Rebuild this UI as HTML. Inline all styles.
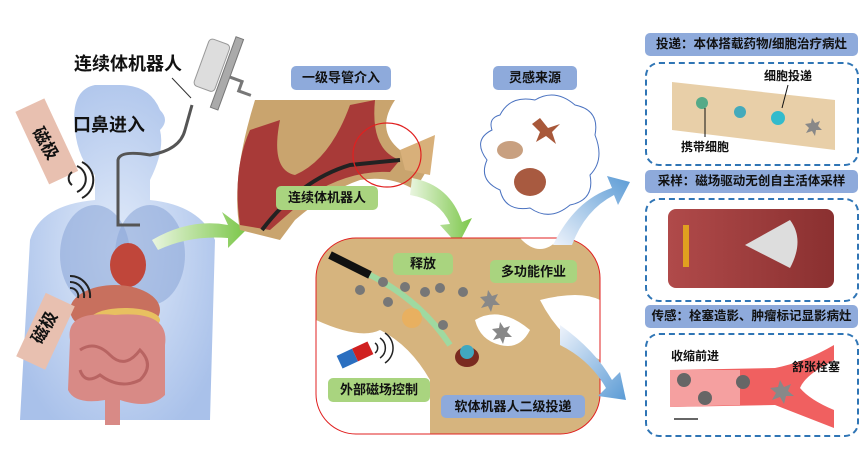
<!DOCTYPE html>
<html><head><meta charset="utf-8"><style>
body{margin:0;width:860px;height:466px;background:#fff;overflow:hidden;position:relative;font-family:"Liberation Sans","Noto Sans CJK SC",sans-serif;}
.t{position:absolute;font-weight:bold;color:#111;white-space:nowrap;}
.g{position:absolute;background:#a9d47f;border-radius:5px;font-weight:bold;font-size:13px;color:#111;text-align:center;}
.b{position:absolute;background:#8eaadb;border-radius:5px;font-weight:bold;font-size:13px;color:#111;text-align:center;}
.d{position:absolute;border:2px dashed #2f75b5;border-radius:14px;}
</style></head><body>
<svg width="860" height="466" style="position:absolute;left:0;top:0">
<defs>
<radialGradient id="bd" cx="50%" cy="50%" r="60%"><stop offset="0" stop-color="#e3ecfa"/><stop offset="1" stop-color="#a9c1ea"/></radialGradient>
<linearGradient id="ga" x1="0" x2="1"><stop offset="0" stop-color="#e9f5df"/><stop offset="1" stop-color="#7cc74a"/></linearGradient>
<linearGradient id="ba" x1="0" y1="1" x2="1" y2="0"><stop offset="0" stop-color="#eef3fb"/><stop offset="1" stop-color="#5b9bd5"/></linearGradient>
<linearGradient id="ba2" x1="0" y1="0" x2="1" y2="1"><stop offset="0" stop-color="#eef3fb"/><stop offset="1" stop-color="#5b9bd5"/></linearGradient>
<linearGradient id="rd" x1="0" x2="1"><stop offset="0" stop-color="#b04a4a"/><stop offset="1" stop-color="#8a3030"/></linearGradient>
</defs>
<path d="M95 85 Q70 90 75 130 Q78 160 95 175 L95 200 Q40 205 30 240 L20 420 L210 420 L215 240 Q200 205 150 200 L150 180 Q165 150 160 130 Q170 120 160 110 Q150 85 120 85 Z" fill="url(#bd)"/>
<ellipse cx="95" cy="255" rx="35" ry="50" fill="#8ea9d8" opacity=".6"/>
<ellipse cx="150" cy="255" rx="35" ry="50" fill="#8ea9d8" opacity=".6"/>
<ellipse cx="128" cy="265" rx="18" ry="22" fill="#c0463a"/>
<ellipse cx="115" cy="310" rx="45" ry="25" fill="#c8705e"/>
<ellipse cx="125" cy="320" rx="35" ry="12" fill="#e8c060"/>
<path d="M70 340 Q65 310 115 315 Q170 310 165 345 L165 395 Q150 410 120 400 L120 425 L105 425 L105 400 Q75 405 68 390 Z" fill="#d88a86"/>
<path d="M80 350 Q95 340 110 355 Q125 370 140 350 Q155 365 140 380 Q120 390 100 375 Q85 385 80 370" stroke="#b86462" stroke-width="3" fill="none"/>
<path d="M140 225 L118 225 L118 160 Q120 150 150 155 Q180 150 185 130 L192 105" stroke="#555" stroke-width="3" fill="none"/>
<g transform="rotate(20 225 70)"><rect x="200" y="45" width="22" height="50" rx="4" fill="#ddd" stroke="#999"/><rect x="224" y="35" width="8" height="75" fill="#aaa" stroke="#777"/><path d="M232 75 L245 75 L245 85 L258 85" stroke="#777" stroke-width="3" fill="none"/></g>
<line x1="172" y1="78" x2="191" y2="98" stroke="#333"/>
<g transform="rotate(-25 45 140)"><rect x="30" y="102" width="32" height="80" fill="#e8c0b0"/></g>
<g transform="rotate(25 45 330)"><rect x="30" y="296" width="32" height="70" fill="#e8c0b0"/></g>
<path d="M72 172 A8 8 0 0 0 72 185 M77 166 A14 14 0 0 1 77 192 M82 162 A20 20 0 0 1 82 198" stroke="#222" stroke-width="2" fill="none"/>
<path d="M70 288 A8 8 0 0 1 78 298 M70 282 A14 14 0 0 1 84 298 M70 276 A20 20 0 0 1 90 298" stroke="#222" stroke-width="2" fill="none"/>
<path d="M152 240 Q190 218 228 225 L222 212 L246 230 L228 248 L228 238 Q190 235 158 250 Z" fill="url(#ga)"/>
<path d="M255 100 L395 100 Q375 130 400 150 L430 165 L415 190 Q390 175 360 180 Q330 190 295 220 L280 240 L240 230 Q230 180 255 100 Z" fill="#c9a46e"/>
<path d="M250 130 L280 120 Q270 170 295 175 Q330 160 350 105 L375 100 Q370 150 400 160 L390 172 Q350 170 310 195 L270 230 L240 225 Q232 170 250 130 Z" fill="#a83a38"/>
<path d="M262 230 Q300 180 350 165 L400 160" stroke="#222" stroke-width="4" fill="none"/>
<path d="M400 150 L435 135 L430 175 L405 170 Z" fill="#d8b07a"/>
<ellipse cx="387" cy="155" rx="34" ry="32" fill="none" stroke="#e02020" stroke-width="1.2"/>
<path d="M412 178 Q450 185 462 222 L472 218 L458 245 L440 225 L450 224 Q440 200 410 195 Z" fill="url(#ga)"/>
<path d="M500 115 Q510 95 535 100 Q555 88 575 105 Q600 110 595 135 Q605 160 590 175 Q595 200 570 205 Q550 222 530 208 Q505 212 500 190 Q478 180 487 160 Q472 140 492 130 Q488 118 500 115 Z" fill="#fff" stroke="#4a72c0" stroke-width="1"/>
<path d="M540 118 L548 128 L560 124 L552 132 L556 144 L546 136 L536 142 L540 132 L532 124 Z" fill="#a8583a"/>
<ellipse cx="510" cy="150" rx="13" ry="9" fill="#c8a080"/>
<ellipse cx="530" cy="182" rx="16" ry="14" fill="#a85a40"/>
<clipPath id="cb"><rect x="316" y="238" width="284" height="196" rx="40"/></clipPath>
<rect x="316" y="238" width="284" height="196" rx="40" fill="#fff"/>
<g clip-path="url(#cb)">
<rect x="316" y="238" width="284" height="196" fill="#d6b47e"/>
<path d="M316 320 Q360 340 380 330 Q410 345 430 380 L430 434 L316 434 Z" fill="#fff"/>
<path d="M475 320 Q500 305 530 330 Q520 350 500 345 Q480 340 475 320 Z" fill="#fff"/>
<path d="M540 300 Q580 290 600 300 L600 360 Q560 340 540 300 Z" fill="#fff"/>
<path d="M520 238 Q540 260 560 238 Z" fill="#fff"/>
</g>
<rect x="316" y="238" width="284" height="196" rx="40" fill="none" stroke="#e02020" stroke-width="1"/>
<path d="M330 255 L370 275" stroke="#111" stroke-width="8"/>
<path d="M370 275 Q420 300 450 345" stroke="#9fd9a0" stroke-width="6" fill="none"/>
<g fill="#777"><circle cx="360" cy="290" r="5"/><circle cx="383" cy="282" r="5"/><circle cx="405" cy="287" r="5"/><circle cx="425" cy="292" r="5"/><circle cx="440" cy="288" r="5"/><circle cx="388" cy="302" r="5"/><circle cx="443" cy="325" r="5"/><circle cx="463" cy="292" r="5"/></g>
<circle cx="412" cy="318" r="10" fill="#e8b060"/>
<ellipse cx="467" cy="357" rx="12" ry="10" fill="#7a2a20"/><circle cx="467" cy="352" r="7" fill="#40a8c0"/>
<path d="M488 290 l4 6 6-2-3 6 5 5-7 0-2 7-3-6-7 2 4-6-5-5 7-1z" fill="#888"/>
<path d="M500 322 l4 6 6-2-3 6 5 5-7 0-2 7-3-6-7 2 4-6-5-5 7-1z" fill="#888"/>
<g transform="rotate(-25 355 355)"><rect x="338" y="348" width="17" height="14" fill="#2b6fc0"/><rect x="355" y="348" width="17" height="14" fill="#d02020"/></g>
<path d="M375 343 A6 6 0 0 1 375 353 M380 338 A12 12 0 0 1 380 358 M385 333 A18 18 0 0 1 385 363" stroke="#222" stroke-width="1.5" fill="none"/>
<path d="M553 245 Q575 200 612 188 L607 176 L630 182 L618 205 L614 195 Q585 210 572 245 Z" fill="url(#ba)"/>
<path d="M560 325 Q595 350 612 380 L620 372 L626 400 L598 396 L606 388 Q590 360 560 345 Z" fill="url(#ba2)"/>
<path d="M672 82 L835 100 L835 150 L672 130 Z" fill="#e8cfa8"/>
<circle cx="702" cy="103" r="6" fill="#5a8"/><circle cx="740" cy="112" r="6" fill="#4ab"/><circle cx="778" cy="118" r="7" fill="#3bc"/>
<path d="M812 118 l3 5 5-2-2 5 4 4-6 0-1 6-3-5-6 2 3-5-4-4 6-1z" fill="#888"/>
<line x1="705" y1="108" x2="705" y2="137" stroke="#111"/><line x1="788" y1="85" x2="782" y2="108" stroke="#111"/>
<rect x="668" y="209" width="166" height="79" rx="8" fill="url(#rd)"/>
<rect x="683" y="225" width="6" height="42" fill="#e0a020"/>
<path d="M745 245 L790 220 Q805 240 790 268 Z" fill="#ddd"/>
<path d="M670 370 L775 368 Q805 362 834 345 L834 360 Q805 375 800 388 Q810 400 834 410 L834 428 L775 405 L670 407 Z" fill="#f06060"/>
<path d="M670 370 L740 370 L740 405 L670 407Z" fill="#f5a0a0"/>
<g fill="#666"><circle cx="684" cy="380" r="7"/><circle cx="743" cy="382" r="7"/><circle cx="705" cy="398" r="7"/></g>
<path d="M780 380 l4 7 7-3-3 7 6 5-8 0-2 8-4-7-8 3 4-7-6-5 8-1z" fill="#888"/>
<line x1="674" y1="419" x2="698" y2="419" stroke="#333" stroke-width="1.5"/>
</svg>
<div class="t" style="left:74px;top:50px;font-size:18px">连续体机器人</div>
<div class="t" style="left:73px;top:111px;font-size:18px">口鼻进入</div>
<div class="t" style="left:30px;top:130px;font-size:17px;transform:rotate(60deg)">磁极</div>
<div class="t" style="left:26px;top:314px;font-size:17px;transform:rotate(-60deg)">磁极</div>
<div class="b" style="left:291px;top:66px;width:100px;height:24px;line-height:24px">一级导管介入</div>
<div class="b" style="left:493px;top:66px;width:84px;height:24px;line-height:24px">灵感来源</div>
<div class="g" style="left:276px;top:186px;width:102px;height:24px;line-height:24px">连续体机器人</div>
<div class="g" style="left:393px;top:253px;width:60px;height:22px;line-height:22px">释放</div>
<div class="g" style="left:490px;top:260px;width:87px;height:23px;line-height:23px">多功能作业</div>
<div class="g" style="left:328px;top:378px;width:102px;height:24px;line-height:24px">外部磁场控制</div>
<div class="b" style="left:441px;top:395px;width:144px;height:23px;line-height:23px">软体机器人二级投递</div>
<div class="b" style="left:645px;top:33px;width:213px;height:23px;line-height:23px;font-size:12.5px">投递：本体搭载药物/细胞治疗病灶</div>
<div class="d" style="left:645px;top:62px;width:210px;height:100px"></div>
<div class="b" style="left:645px;top:170px;width:213px;height:23px;line-height:23px;font-size:12.5px">采样：磁场驱动无创自主活体采样</div>
<div class="d" style="left:645px;top:198px;width:210px;height:100px"></div>
<div class="b" style="left:645px;top:305px;width:213px;height:23px;line-height:23px;font-size:12.5px">传感：栓塞造影、肿瘤标记显影病灶</div>
<div class="d" style="left:645px;top:333px;width:210px;height:100px"></div>
<div class="t" style="left:764px;top:67px;font-size:12px">细胞投递</div>
<div class="t" style="left:681px;top:138px;font-size:12px">携带细胞</div>
<div class="t" style="left:671px;top:347px;font-size:12px">收缩前进</div>
<div class="t" style="left:792px;top:358px;font-size:12px">舒张栓塞</div>
</body></html>
